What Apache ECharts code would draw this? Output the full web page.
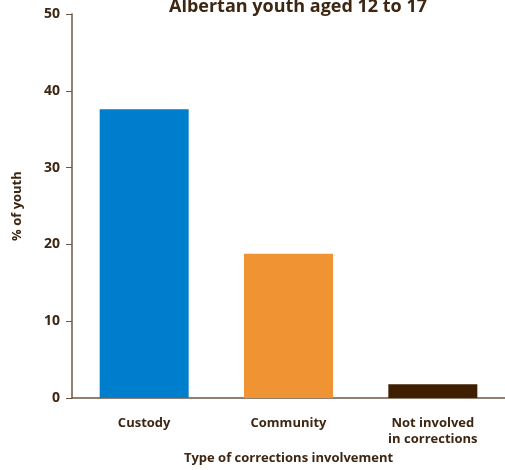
<!DOCTYPE html>
<html>
<head>
<meta charset="utf-8">
<script src="https://cdn.jsdelivr.net/npm/echarts@6/dist/echarts.min.js"></script>
<style>
  html, body { margin: 0; padding: 0; background: #fff; }
  #chart { width: 505px; height: 470px; }
</style>
</head>
<body>
<div id="chart"></div>
<script>
const categories = ['Custody', 'Community', 'Not involved\nin corrections'];
const values = [37.6, 18.8, 1.8];
const barColors = ['#007ece', '#f09433', '#3e1f02'];
const yTicks = [0, 10, 20, 30, 40, 50];

const textColor = '#3d2612';
const axisColor = '#6e5644';
const fontFamily = '"Open Sans", "Noto Sans", sans-serif';

const chart = echarts.init(document.getElementById('chart'));
chart.setOption({
  animation: false,
  title: {
    text: 'Albertan youth aged 12 to 17',
    left: 293,
    textAlign: 'center',
    top: -7,
    textStyle: { fontFamily, fontSize: 18, fontWeight: 'bold', color: textColor }
  },
  // plot area runs past the right edge of the canvas
  grid: { left: 72, top: 14, width: 444, height: 389 },
  xAxis: {
    type: 'category',
    data: categories,
    name: 'Type of corrections involvement',
    nameLocation: 'middle',
    nameGap: 52,
    nameTextStyle: { fontFamily, fontSize: 13, fontWeight: 'bold', color: textColor },
    axisLine: { lineStyle: { color: axisColor, width: 1.5 } },
    axisTick: { alignWithLabel: true, length: 6, lineStyle: { color: axisColor } },
    axisLabel: { fontFamily, fontSize: 13, fontWeight: 'bold', color: textColor, margin: 17, lineHeight: 16 }
  },
  yAxis: {
    type: 'value',
    min: yTicks[0],
    max: yTicks[yTicks.length - 1],
    interval: 10,
    name: '% of youth',
    nameLocation: 'middle',
    nameGap: 48,
    nameRotate: 90,
    nameTextStyle: { fontFamily, fontSize: 13, fontWeight: 'bold', color: textColor },
    axisLine: { show: true, lineStyle: { color: axisColor, width: 1.5 } },
    axisTick: { show: true, length: 6, lineStyle: { color: axisColor } },
    axisLabel: { fontFamily, fontSize: 14, fontWeight: 'bold', color: textColor, margin: 12 },
    splitLine: { show: false }
  },
  series: [{
    type: 'bar',
    barWidth: 89,
    data: values.map((v, i) => ({ value: v, itemStyle: { color: barColors[i] } }))
  }]
});
</script>
</body>
</html>
